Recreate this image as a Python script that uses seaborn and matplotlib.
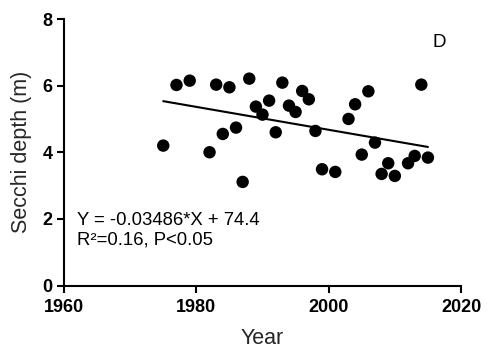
import matplotlib
matplotlib.use("Agg")
import matplotlib.pyplot as plt
import seaborn as sns
import pandas as pd

years = [1975, 1977, 1979, 1982, 1983, 1984, 1985, 1986, 1987, 1988, 1989, 1990,
         1991, 1992, 1993, 1994, 1995, 1996, 1997, 1998, 1999, 2001, 2003, 2004,
         2005, 2006, 2007, 2008, 2009, 2010, 2012, 2013, 2014, 2015]
secchi = [4.20, 6.02, 6.15, 4.00, 6.03, 4.55, 5.95, 4.74, 3.11, 6.21, 5.37, 5.13,
          5.55, 4.60, 6.09, 5.40, 5.21, 5.84, 5.59, 4.64, 3.49, 3.41, 5.00, 5.44,
          3.93, 5.83, 4.29, 3.35, 3.67, 3.29, 3.67, 3.89, 6.03, 3.84]
x_ticks = [1960, 1980, 2000, 2020]
y_ticks = [0, 2, 4, 6, 8]
equation_text = "Y = -0.03486*X + 74.4\nR\u00b2=0.16, P<0.05"
panel_label = "D"

df = pd.DataFrame({"Year": years, "Secchi": secchi})

sns.set_style("ticks")
plt.rcParams["font.family"] = ["Liberation Sans", "DejaVu Sans"]

fig = plt.figure(figsize=(4.88, 3.56), dpi=100)
ax = fig.add_axes([0.1311, 0.198, 0.8136, 0.7486])

sns.regplot(data=df, x="Year", y="Secchi", ax=ax, ci=None,
            scatter_kws=dict(s=80, color="black", edgecolor="none", alpha=1),
            line_kws=dict(color="black", lw=1.5))

ax.set_xlim(1960, 2020)
ax.set_ylim(0, 8)
ax.set_xticks(x_ticks)
ax.set_yticks(y_ticks)
ax.set_xticklabels([str(t) for t in x_ticks], fontweight="bold", fontsize=13)
ax.set_yticklabels([str(t) for t in y_ticks], fontweight="bold", fontsize=13)
ax.set_xlabel("Year", fontsize=15.5, labelpad=8.5)
ax.set_ylabel("Secchi depth (m)", fontsize=15.5, labelpad=7.5)

for s in ["top", "right"]:
    ax.spines[s].set_visible(False)
for s in ["left", "bottom"]:
    ax.spines[s].set_linewidth(1.5)
    ax.spines[s].set_color("black")
ax.tick_params(axis="both", width=1.5, length=5, color="black", labelcolor="black")
ax.tick_params(axis="x", pad=4.5)
ax.tick_params(axis="y", pad=3)

ax.text(1962.0, 2.2, equation_text, fontsize=13.3, va="top", ha="left",
        linespacing=1.2, color="black")
ax.text(2015.7, 7.55, panel_label, fontsize=13.5, va="top", ha="left", color="black")

fig.savefig("out.png", dpi=100)
